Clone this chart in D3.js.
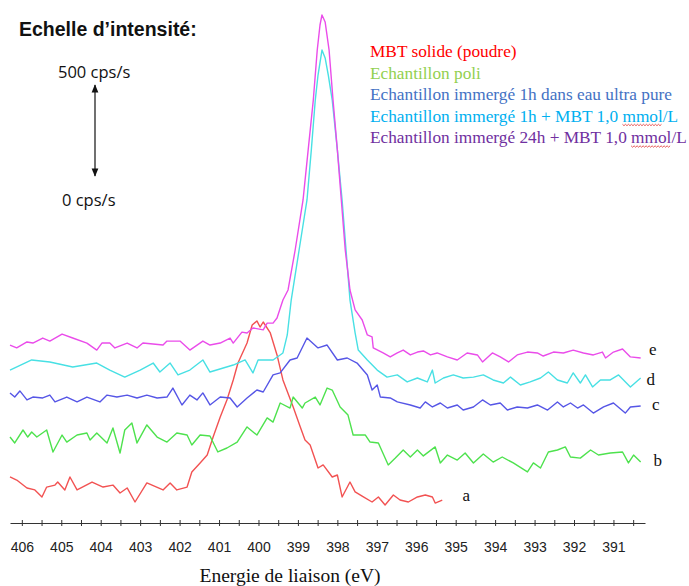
<!DOCTYPE html>
<html>
<head>
<meta charset="utf-8">
<script src="https://cdn.jsdelivr.net/npm/d3@7/dist/d3.min.js"></script>
<style>
  body { margin: 0; background: #ffffff; }
  svg { display: block; }
</style>
</head>
<body>
<div id="xps_plot"></div>
<script>

var legendLabels = [
  "MBT solide (poudre)",
  "Echantillon poli",
  "Echantillon immergé 1h dans eau ultra pure",
  "Echantillon immergé 1h + MBT 1,0 mmol/L",
  "Echantillon immergé 24h + MBT 1,0 mmol/L"
];
var legendColors = ["#ff0000", "#92d050", "#4472c4", "#00b0f0", "#7030a0"];

var curveLetters = ["a", "b", "c", "d", "e"];
var curveColors = ["#f25252", "#4ee24e", "#5656e6", "#48e0e4", "#ea4cea"];

var tickLabels = [406, 405, 404, 403, 402, 401, 400, 399, 398, 397, 396, 395, 394, 393, 392, 391];

// [binding energy (eV), intensity (cps/s)] - curves are already offset as in the figure
var spectrumA = [
  [406.30,239],[406.13,222],[405.87,178],[405.67,167],[405.49,128],[405.37,183],[405.16,194],[405.09,211],
  [404.91,167],[404.78,239],[404.60,167],[404.22,211],[403.94,183],[403.69,194],[403.51,150],[403.33,178],
  [403.13,100],[402.83,206],[402.42,167],[402.24,206],[402.07,167],[401.81,183],[401.69,267],[401.48,317],
  [401.30,361],[401.15,461],[400.97,572],[400.80,667],[400.64,778],[400.52,872],[400.29,983],[400.16,1083],
  [400.04,1106],[399.96,1072],[399.88,1100],[399.70,1039],[399.53,917],[399.38,778],[399.12,628],[398.94,517],
  [398.82,444],[398.69,417],[398.49,289],[398.36,306],[398.13,239],[398.00,250],[397.88,128],[397.68,211],
  [397.55,156],[397.34,128],[397.12,100],[396.96,128],[396.79,83],[396.58,139],[396.41,111],[396.20,100],
  [395.97,128],[395.77,139],[395.59,128],[395.52,94],[395.34,111]
];

var spectrumB = [
  [406.30,461],[406.18,428],[405.97,500],[405.85,461],[405.75,489],[405.62,461],[405.37,500],[405.21,378],
  [404.98,472],[404.86,433],[404.60,472],[404.35,483],[404.27,444],[404.10,483],[403.84,428],[403.69,511],
  [403.51,372],[403.39,500],[403.21,539],[403.08,428],[402.83,528],[402.57,461],[402.32,433],[402.07,483],
  [401.81,472],[401.69,417],[401.48,472],[401.23,467],[401.03,378],[400.80,400],[400.54,433],[400.29,517],
  [400.04,472],[399.78,567],[399.63,544],[399.45,650],[399.20,622],[399.12,683],[398.89,622],[398.82,650],
  [398.56,683],[398.44,639],[398.26,733],[398.13,722],[397.93,628],[397.73,583],[397.60,472],[397.29,472],
  [397.17,433],[396.96,428],[396.71,306],[396.53,344],[396.33,389],[396.15,350],[395.97,389],[395.82,356],
  [395.52,406],[395.39,317],[395.21,361],[394.96,333],[394.76,372],[394.55,317],[394.30,367],[394.05,322],
  [393.82,350],[393.54,317],[393.18,267],[393.03,317],[392.85,289],[392.65,378],[392.42,389],[392.22,406],
  [392.09,350],[391.84,344],[391.58,389],[391.38,361],[391.08,372],[390.77,378],[390.62,317],[390.49,361],
  [390.31,322]
];

var spectrumC = [
  [406.30,706],[406.18,683],[406.05,717],[405.87,667],[405.72,683],[405.47,678],[405.29,694],[405.16,656],
  [404.86,683],[404.60,656],[404.35,683],[404.02,656],[403.84,694],[403.59,683],[403.33,694],[403.08,678],
  [402.83,694],[402.57,678],[402.32,683],[402.17,733],[401.94,639],[401.74,694],[401.56,667],[401.41,706],
  [401.23,639],[400.97,683],[400.72,678],[400.54,628],[400.29,678],[400.04,722],[399.88,711],[399.63,806],
  [399.45,817],[399.20,889],[399.02,900],[398.77,1011],[398.49,956],[398.26,972],[398.00,889],[397.75,900],
  [397.50,872],[397.24,806],[397.12,722],[396.99,750],[396.91,683],[396.66,678],[396.48,656],[396.15,639],
  [395.90,622],[395.77,656],[395.59,628],[395.39,650],[395.21,622],[394.96,639],[394.81,611],[394.55,628],
  [394.32,667],[394.12,639],[393.87,650],[393.69,611],[393.44,628],[393.18,622],[392.93,639],[392.67,611],
  [392.42,656],[392.27,628],[392.09,650],[391.91,622],[391.76,639],[391.51,594],[391.25,628],[391.00,650],
  [390.70,594],[390.57,628],[390.31,633]
];

var spectrumD = [
  [406.30,833],[405.75,889],[405.29,878],[404.71,850],[404.10,872],[403.77,833],[403.39,794],[403.00,833],
  [402.67,872],[402.50,822],[402.24,872],[402.04,806],[401.74,833],[401.41,889],[401.23,822],[400.64,861],
  [400.34,889],[400.14,817],[400.01,889],[399.63,889],[399.38,928],[399.27,1028],[399.17,1222],[398.97,1500],
  [398.77,1778],[398.66,2056],[398.56,2333],[398.49,2472],[398.39,2611],[398.31,2567],[398.23,2472],[398.13,2333],
  [398.00,2056],[397.88,1778],[397.78,1500],[397.68,1222],[397.55,1039],[397.47,944],[397.24,889],[396.99,833],
  [396.74,794],[396.48,806],[396.23,767],[395.97,789],[395.72,767],[395.59,833],[395.52,761],[395.31,789],
  [395.06,806],[394.81,789],[394.55,794],[394.30,806],[394.05,778],[393.79,761],[393.61,794],[393.36,750],
  [393.11,767],[392.85,789],[392.65,822],[392.42,778],[392.17,761],[392.02,817],[391.84,761],[391.71,806],
  [391.53,739],[391.33,778],[391.08,778],[390.87,806],[390.57,739],[390.31,789]
];

var spectrumE = [
  [406.30,972],[406.13,956],[405.87,989],[405.72,983],[405.47,1011],[405.29,994],[404.98,1033],[404.71,1011],
  [404.35,983],[404.10,944],[403.97,983],[403.77,983],[403.64,956],[403.33,983],[403.08,956],[402.93,983],
  [402.42,972],[402.32,994],[401.99,994],[401.74,944],[401.41,994],[401.23,972],[400.97,983],[400.72,1011],
  [400.64,983],[400.42,1044],[400.29,1039],[400.14,1067],[399.88,1056],[399.78,1094],[399.63,1094],[399.53,1122],
  [399.38,1222],[399.25,1278],[399.07,1500],[398.87,1778],[398.74,2056],[398.61,2333],[398.51,2611],[398.44,2750],
  [398.39,2806],[398.31,2767],[398.21,2611],[398.11,2333],[398.00,2056],[397.90,1778],[397.80,1500],[397.68,1278],
  [397.55,1167],[397.37,1111],[397.24,1028],[397.12,1017],[397.09,956],[396.84,928],[396.66,906],[396.48,928],
  [396.33,944],[396.15,917],[395.97,933],[395.82,939],[395.64,917],[395.47,928],[395.21,906],[394.96,889],
  [394.71,928],[394.45,917],[394.32,878],[394.07,928],[393.87,906],[393.66,878],[393.44,917],[393.18,933],
  [392.93,928],[392.78,911],[392.52,933],[392.27,928],[392.02,944],[391.76,928],[391.51,917],[391.28,933],
  [391.20,900],[391.00,933],[390.77,950],[390.57,906],[390.31,900]
];

var spectra = [spectrumA, spectrumB, spectrumC, spectrumD, spectrumE];

/////////////////////////////////////////////////////////////////////

var width = 689, height = 586;

var svg = d3.select("#xps_plot").append("svg")
  .attr("width", width)
  .attr("height", height);

var x = d3.scaleLinear().domain([406.3, 390.2]).range([10, 645]);
var y = d3.scaleLinear().domain([0, 2800]).range([520, 16]);

var line = d3.line()
  .x(d => x(d[0]))
  .y(d => y(d[1]));

// curves
svg.selectAll("path.curve")
  .data(spectra)
  .enter()
  .append("path")
  .attr("class", "curve")
  .attr("d", line)
  .attr("fill", "none")
  .attr("stroke", (d, i) => curveColors[i])
  .attr("stroke-width", 1.4)
  .attr("stroke-linejoin", "round");

// a..e labels at the end of each curve
var letterShift = { a: [24, -3], b: [17, 0], c: [15, 0], d: [10, 3], e: [12, -7] };
svg.selectAll("text.letter")
  .data(spectra)
  .enter()
  .append("text")
  .attr("class", "letter")
  .attr("x", (d, i) => x(d[d.length - 1][0]) + letterShift[curveLetters[i]][0])
  .attr("y", (d, i) => y(d[d.length - 1][1]) + letterShift[curveLetters[i]][1])
  .attr("dominant-baseline", "middle")
  .attr("text-anchor", "middle")
  .attr("font-family", "'Liberation Serif', 'Times New Roman', serif")
  .attr("font-size", 17)
  .attr("fill", "#111")
  .text((d, i) => curveLetters[i]);

// x axis, minor ticks every 0.5 eV
var allTicks = d3.range(390.5, 406.01, 0.5);
var axis = d3.axisBottom(x)
  .tickValues(allTicks)
  .tickSize(3)
  .tickSizeOuter(0)
  .tickPadding(16)
  .tickFormat(d => tickLabels.indexOf(d) >= 0 ? d : "");

var gx = svg.append("g")
  .attr("transform", "translate(0,523)")
  .call(axis);
gx.select(".domain").attr("stroke", "#333");
gx.selectAll(".tick line").attr("y1", -3).attr("y2", 3).attr("stroke", "#333");
gx.selectAll(".tick text")
  .attr("font-family", "'Liberation Sans', Arial, sans-serif")
  .attr("font-size", 14)
  .attr("fill", "#222");

svg.append("text")
  .attr("x", 290)
  .attr("y", 582)
  .attr("text-anchor", "middle")
  .attr("font-family", "'Liberation Serif', 'Times New Roman', serif")
  .attr("font-size", 19.5)
  .attr("fill", "#111")
  .text("Energie de liaison (eV)");

// legend
var legend = svg.append("g");
legendLabels.forEach(function (lab, i) {
  var t = legend.append("text")
    .attr("x", 370)
    .attr("y", 57 + i * 21.5)
    .attr("font-family", "'Liberation Serif', 'Times New Roman', serif")
    .attr("font-size", 17.3)
    .attr("fill", legendColors[i])
    .text(lab);
  var k = lab.indexOf("mmol");
  if (k >= 0) {
    // red spell-check squiggle under "mmol"
    var node = t.node();
    var x0 = 370 + node.getSubStringLength(0, k);
    var w = node.getSubStringLength(k, 4);
    var yb = 57 + i * 21.5 + 3;
    var pts = [];
    for (var s = 0; s <= w; s += 1.5) pts.push([x0 + s, yb + ((Math.round(s / 1.5) % 2) ? 1.2 : -0.2)]);
    legend.append("path")
      .attr("d", d3.line()(pts))
      .attr("fill", "none")
      .attr("stroke", "#e03030")
      .attr("stroke-width", 0.8);
  }
});

// intensity scale
svg.append("text")
  .attr("x", 19)
  .attr("y", 36)
  .attr("font-family", "'Liberation Sans', Arial, sans-serif")
  .attr("font-weight", "bold")
  .attr("font-size", 19.5)
  .attr("fill", "#111")
  .text("Echelle d\u2019intensité:");

svg.append("text")
  .attr("x", 58)
  .attr("y", 78)
  .attr("font-family", "'Open Sans', 'Liberation Sans', sans-serif")
  .attr("font-size", 16.5)
  .attr("fill", "#111")
  .text("500 cps/s");

svg.append("text")
  .attr("x", 62)
  .attr("y", 206)
  .attr("font-family", "'Open Sans', 'Liberation Sans', sans-serif")
  .attr("font-size", 16.5)
  .attr("fill", "#111")
  .text("0 cps/s");

var defs = svg.append("defs");
defs.append("marker")
  .attr("id", "arrowhead")
  .attr("viewBox", "0 0 10 10")
  .attr("refX", 9)
  .attr("refY", 5)
  .attr("markerWidth", 7)
  .attr("markerHeight", 7)
  .attr("orient", "auto-start-reverse")
  .append("path")
  .attr("d", "M0,1 L10,5 L0,9 Z")
  .attr("fill", "#111");

svg.append("line")
  .attr("x1", 95).attr("y1", 85)
  .attr("x2", 95).attr("y2", 176)
  .attr("stroke", "#111")
  .attr("stroke-width", 1.2)
  .attr("marker-start", "url(#arrowhead)")
  .attr("marker-end", "url(#arrowhead)");

</script>
</body>
</html>
